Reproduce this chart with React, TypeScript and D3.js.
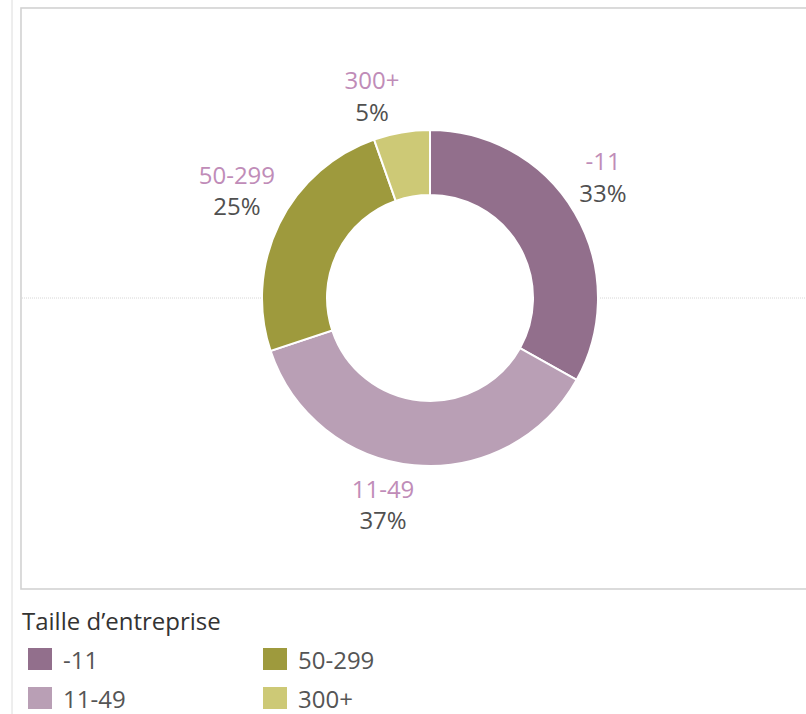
import React from "react";
import * as d3 from "d3";

const categories = ["-11", "11-49", "50-299", "300+"];
const shares = [33.1, 36.8, 24.7, 5.4];
const percentLabels = ["33%", "37%", "25%", "5%"];
const colors = ["#926f8c", "#b99fb5", "#9e9a3d", "#cdc976"];
const legendTitle = "Taille d\u2019entreprise";
const legendOrder = ["-11", "11-49", "50-299", "300+"];

// label placement tweaks (degrees / px), styling only
const labelAngleNudge = [-4.5, 7.4, 3, -6.3];
const labelRadiusNudge = [0, 1, 10, -1];

const W = 806;
const H = 714;
const FONT = "'Open Sans', Lato, sans-serif";

export default function App() {
  const cx = 430;
  const cy = 298;
  const outerR = 168;
  const innerR = 103;
  const labelR = 211;

  const pie = d3.pie<number>().sort(null).value((d) => d);
  const arcs = pie(shares);
  const arcGen = d3.arc<d3.PieArcDatum<number>>().innerRadius(innerR).outerRadius(outerR);
  const color = d3.scaleOrdinal<string, string>().domain(categories).range(colors);

  const legendX = d3.scalePoint<number>().domain([0, 1]).range([28, 263]);
  const legendY = d3.scalePoint<number>().domain([0, 1]).range([648, 687]);

  return (
    <div style={{ position: "fixed", left: 0, top: 0, width: W, height: H, background: "#fff" }}>
      <svg width={W} height={H} style={{ display: "block" }}>
        <line x1={12} x2={12} y1={0} y2={H} stroke="#dcdcdc" strokeWidth={1} />
        <rect x={21} y={8} width={W} height={581} fill="#fff" stroke="#d2d2d2" strokeWidth={1.6} />
        <line x1={22} x2={cx - outerR} y1={cy} y2={cy} stroke="#d6d6d6" strokeWidth={1} strokeDasharray="1,1" />
        <line x1={cx + outerR} x2={W} y1={cy} y2={cy} stroke="#d6d6d6" strokeWidth={1} strokeDasharray="1,1" />
        <g transform={`translate(${cx},${cy})`}>
          {arcs.map((a, i) => (
            <path key={categories[i]} d={arcGen(a) || ""} fill={color(categories[i])} stroke="#fff" strokeWidth={2} />
          ))}
          {arcs.map((a, i) => {
            const mid = (a.startAngle + a.endAngle) / 2 + (labelAngleNudge[i] * Math.PI) / 180;
            const r = labelR + labelRadiusNudge[i];
            const lx = r * Math.sin(mid);
            const ly = -r * Math.cos(mid);
            return (
              <g key={"l" + i} transform={`translate(${lx},${ly})`} fontFamily={FONT} textAnchor="middle">
                <text y={-7} fontSize={24} fill="#c08cb8">{categories[i]}</text>
                <text y={24.5} fontSize={24} fill="#505050">{percentLabels[i]}</text>
              </g>
            );
          })}
        </g>
        <text x={22} y={630} fontFamily={FONT} fontSize={24} fill="#333">{legendTitle}</text>
        {legendOrder.map((c, i) => {
          const col = Math.floor(i / 2);
          const row = i % 2;
          const x = legendX(col) as number;
          const y = legendY(row) as number;
          return (
            <g key={c}>
              <rect x={x} y={y} width={24} height={22} fill={color(c)} />
              <text x={x + 35} y={y + 21} fontFamily={FONT} fontSize={24} fill="#555">{c}</text>
            </g>
          );
        })}
      </svg>
    </div>
  );
}
